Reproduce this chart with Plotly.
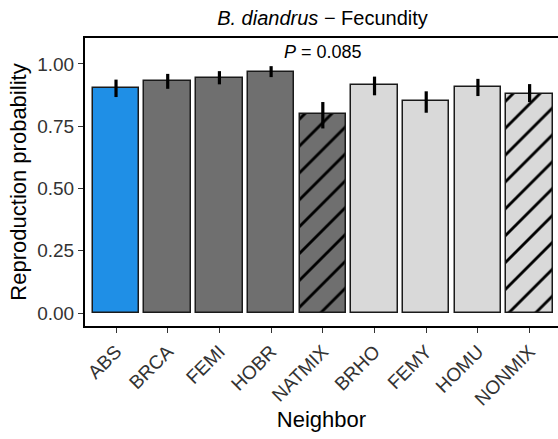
import plotly.graph_objects as go

categories = ["ABS", "BRCA", "FEMI", "HOBR", "NATMIX", "BRHO", "FEMY", "HOMU", "NONMIX"]
values = [0.903, 0.930, 0.945, 0.969, 0.798, 0.914, 0.850, 0.907, 0.880]
err_upper = [0.937, 0.960, 0.971, 0.991, 0.847, 0.949, 0.890, 0.940, 0.919]
err_lower = [0.867, 0.900, 0.918, 0.947, 0.741, 0.874, 0.804, 0.871, 0.847]
fill_colors = ["#1f8fe6", "#6f6f6f", "#6f6f6f", "#6f6f6f", "#6f6f6f",
               "#d9d9d9", "#d9d9d9", "#d9d9d9", "#d9d9d9"]
hatch = ["", "", "", "", "/", "", "", "", "/"]
y_ticks = [0.0, 0.25, 0.5, 0.75, 1.0]
y_ticklabels = ["0.00", "0.25", "0.50", "0.75", "1.00"]
p_text = "<i>P</i> = 0.085"

xpos = list(range(1, len(categories) + 1))
FONT = "Liberation Sans, Arial, sans-serif"

fig = go.Figure()
for i in range(len(categories)):
    pattern = dict(shape=hatch[i], fgcolor="black", bgcolor=fill_colors[i],
                   fgopacity=1, size=19, solidity=0.15, fillmode="replace") if hatch[i] else None
    marker = dict(color=fill_colors[i], line=dict(color="#1a1a1a", width=1.5))
    if pattern:
        marker["pattern"] = pattern
    fig.add_trace(go.Bar(
        x=[xpos[i]], y=[values[i]], width=0.9, marker=marker,
        error_y=dict(type="data", symmetric=False,
                     array=[err_upper[i] - values[i]],
                     arrayminus=[values[i] - err_lower[i]],
                     color="black", thickness=3.2, width=0),
        showlegend=False,
    ))

fig.add_annotation(x=5, y=1.048, text=p_text, showarrow=False, xref="x", yref="y",
                   font=dict(family=FONT, size=18, color="black"))

fig.update_layout(
    width=558, height=439,
    margin=dict(l=85, r=0, t=38, b=113),
    paper_bgcolor="white", plot_bgcolor="white",
    title=dict(text="<i>B. diandrus</i> \u2212 Fecundity", x=(85 + 560) / 2 / 558, xanchor="center",
               y=1 - 18 / 439, yanchor="middle",
               font=dict(family=FONT, size=20, color="black")),
    font=dict(family=FONT, color="black"),
    barmode="overlay", bargap=0,
)
fig.update_xaxes(range=[0.4, 0.4 + (558 - 85) / 51.7], tickmode="array", tickvals=xpos,
                 ticktext=categories, tickangle=-45, ticks="outside", ticklen=5,
                 tickcolor="#333", tickwidth=1.2,
                 showline=True, linecolor="black", linewidth=2, mirror=True,
                 showgrid=False, zeroline=False,
                 tickfont=dict(family=FONT, size=19, color="#333"),
                 title=dict(text="Neighbor", font=dict(family=FONT, size=22, color="black"), standoff=3))
fig.update_yaxes(range=[-0.052, 1.104], tickmode="array", tickvals=y_ticks, ticktext=y_ticklabels,
                 ticks="outside", ticklen=5, tickcolor="#333", tickwidth=1.2,
                 showline=True, linecolor="black", linewidth=2,
                 showgrid=False, zeroline=False,
                 tickfont=dict(family=FONT, size=19, color="#333"),
                 title=dict(text="Reproduction probability", font=dict(family=FONT, size=22, color="black"), standoff=5))

fig.write_html("out.html")
